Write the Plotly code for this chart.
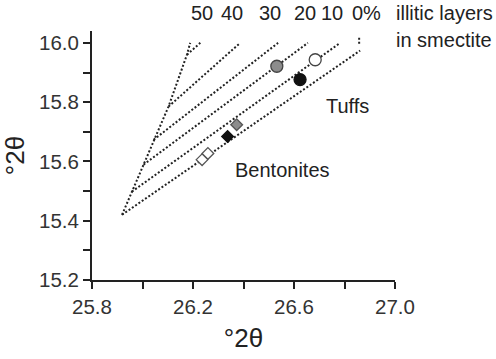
import plotly.graph_objects as go

# ---- data (°2θ positions) ----
pct_labels = ["50", "40", "30", "20", "10", "0%"]
line_x0 = [26.176, 26.103, 26.044, 26.004, 25.958, 25.919]
line_y0 = [15.960, 15.785, 15.673, 15.589, 15.498, 15.420]
line_x1 = [26.229, 26.387, 26.537, 26.655, 26.783, 26.862]
line_y1 = [16.000, 16.000, 16.000, 16.000, 16.000, 15.974]
# label positions as fractions of plot width
label_px = [0.363, 0.462, 0.587, 0.704, 0.793, 0.905]

env_x = [25.919, 25.958, 26.004, 26.044, 26.103, 26.176, 26.189]
env_y = [15.420, 15.498, 15.589, 15.673, 15.785, 15.960, 16.000]

tick0_x = [26.858, 26.858]
tick0_y = [15.997, 16.022]

# samples
tuff_gray_x, tuff_gray_y = [26.532], [15.921]
tuff_open_x, tuff_open_y = [26.684], [15.943]
tuff_black_x, tuff_black_y = [26.624], [15.876]
bent_open_x, bent_open_y = [26.236, 26.259], [15.606, 15.627]
bent_black_x, bent_black_y = [26.337], [15.684]
bent_gray_x, bent_gray_y = [26.373], [15.724]

FONT = "Liberation Sans, Arial, sans-serif"
LINE = dict(color="#222222", width=2, dash="2px,2px")

fig = go.Figure()
fig.add_trace(go.Scatter(x=env_x, y=env_y, mode="lines", line=LINE, showlegend=False, hoverinfo="skip"))
for i in range(len(pct_labels)):
    fig.add_trace(go.Scatter(x=[line_x0[i], line_x1[i]], y=[line_y0[i], line_y1[i]],
                             mode="lines", line=LINE, showlegend=False, hoverinfo="skip"))
fig.add_trace(go.Scatter(x=tick0_x, y=tick0_y, mode="lines", line=LINE, showlegend=False,
                         hoverinfo="skip", cliponaxis=False))

def pts(x, y, symbol, fill, edge, size):
    fig.add_trace(go.Scatter(x=x, y=y, mode="markers", showlegend=False, cliponaxis=False,
                             marker=dict(symbol=symbol, size=size, color=fill,
                                         line=dict(color=edge, width=1.3))))

pts(bent_open_x, bent_open_y, "diamond", "white", "#555555", 9)
pts(bent_black_x, bent_black_y, "diamond", "#111111", "#111111", 9)
pts(bent_gray_x, bent_gray_y, "diamond", "#8c8c8c", "#555555", 9)
pts(tuff_gray_x, tuff_gray_y, "circle", "#8c8c8c", "#444444", 12)
pts(tuff_open_x, tuff_open_y, "circle", "white", "#444444", 12)
pts(tuff_black_x, tuff_black_y, "circle", "#111111", "#111111", 12)

TF = dict(size=20, color="#222", family=FONT)
ann = []
for i, lab in enumerate(pct_labels):
    ann.append(dict(x=label_px[i], y=1.072, xref="paper", yref="paper", text=lab, showarrow=False,
                    xanchor="center", yanchor="middle", font=TF))
ann.append(dict(x=0.998, y=1.072, xref="paper", yref="paper", text="illitic layers", showarrow=False,
                xanchor="left", yanchor="middle", font=TF))
ann.append(dict(x=1.328, y=0.962, xref="paper", yref="paper", text="in smectite", showarrow=False,
                xanchor="right", yanchor="middle", font=TF))
ann.append(dict(x=26.812, y=15.787, xref="x", yref="y", text="Tuffs", showarrow=False,
                xanchor="center", yanchor="middle", font=TF))
ann.append(dict(x=26.555, y=15.571, xref="x", yref="y", text="Bentonites", showarrow=False,
                xanchor="center", yanchor="middle", font=TF))

fig.update_layout(
    width=496, height=359,
    margin=dict(l=92, r=101, t=31, b=79),
    paper_bgcolor="white", plot_bgcolor="white",
    annotations=ann,
    font=dict(family=FONT, color="#333"),
    xaxis=dict(range=[25.8, 27.0], tickvals=[25.8, 26.2, 26.6, 27.0], ticktext=["25.8", "26.2", "26.6", "27.0"],
               ticks="outside", ticklen=7, tickwidth=2, tickcolor="#222",
               minor=dict(tickvals=[26.0, 26.4, 26.8], ticks="outside", ticklen=7, tickwidth=2, tickcolor="#222"),
               showline=True, linewidth=2, linecolor="#222", showgrid=False, zeroline=False,
               tickfont=dict(size=20.5, color="#333", family=FONT),
               title=dict(text="°2θ", font=dict(size=26, color="#222", family=FONT), standoff=12)),
    yaxis=dict(range=[15.2, 16.04], tickvals=[15.2, 15.4, 15.6, 15.8, 16.0],
               ticktext=["15.2", "15.4", "15.6", "15.8", "16.0"],
               ticks="outside", ticklen=7, tickwidth=2, tickcolor="#222",
               minor=dict(tickvals=[15.3, 15.5, 15.7, 15.9], ticks="outside", ticklen=7, tickwidth=2, tickcolor="#222"),
               showline=True, linewidth=2, linecolor="#222", showgrid=False, zeroline=False,
               tickfont=dict(size=20.5, color="#333", family=FONT),
               title=dict(text="°2θ", font=dict(size=26, color="#222", family=FONT), standoff=10)),
)

fig.write_html("out.html")
